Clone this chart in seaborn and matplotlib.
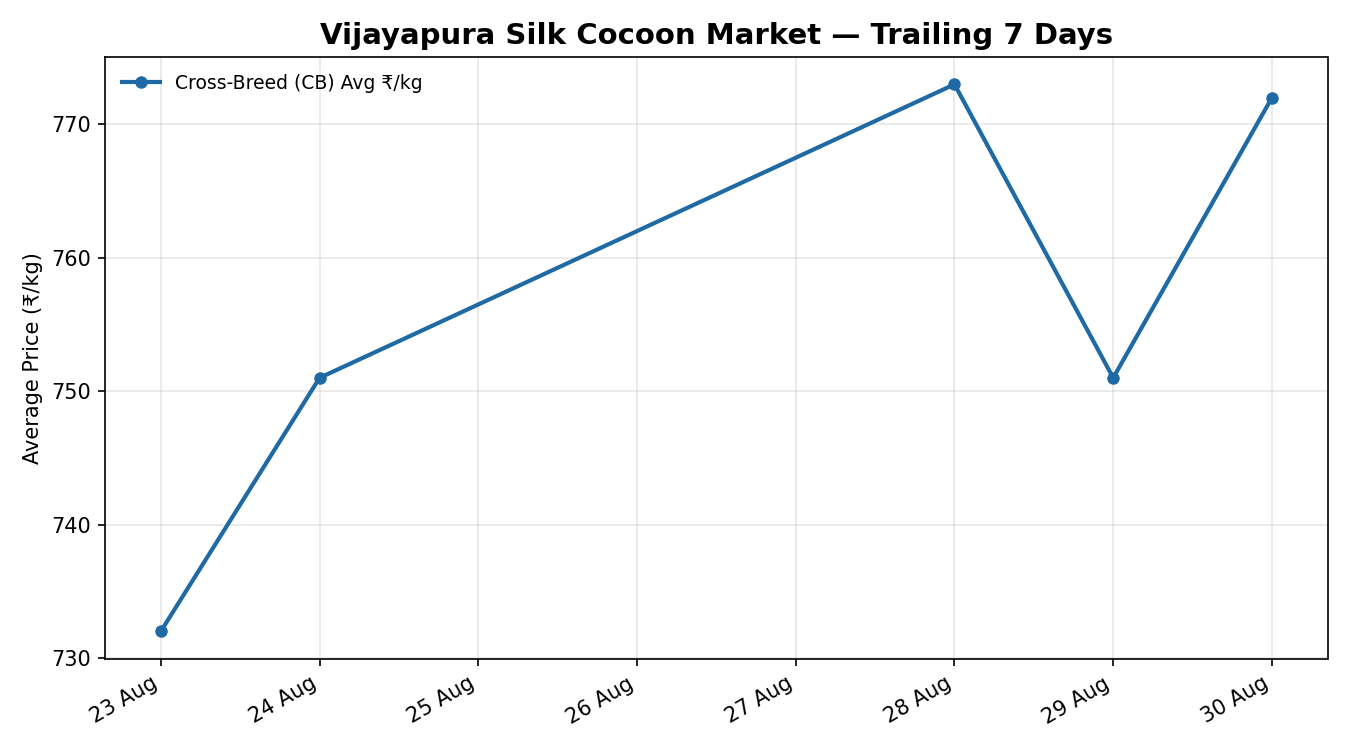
import matplotlib
matplotlib.use("Agg")
import matplotlib.pyplot as plt
import matplotlib.dates as mdates
import pandas as pd
import seaborn as sns

dates = ["2024-08-23", "2024-08-24", "2024-08-28", "2024-08-29", "2024-08-30"]
cb_price = [732, 751, 773, 751, 772]
series_label = "Cross-Breed (CB) Avg ₹/kg"

df = pd.DataFrame({"date": pd.to_datetime(dates), "price": cb_price})

plt.rcParams["font.family"] = ["DejaVu Sans"]

fig, ax = plt.subplots(figsize=(9, 5), dpi=150)
sns.lineplot(
    data=df,
    x="date",
    y="price",
    ax=ax,
    color="#1f6aa5",
    linewidth=2,
    marker="o",
    markersize=6,
    markeredgewidth=0,
    label=series_label,
)
ax.set_title("Vijayapura Silk Cocoon Market — Trailing 7 Days",
             fontsize=14, fontweight="bold")
ax.set_xlabel("")
ax.set_ylabel("Average Price (₹/kg)")
ax.grid(True, alpha=0.3)
ax.xaxis.set_major_locator(mdates.DayLocator())
ax.xaxis.set_major_formatter(mdates.DateFormatter("%d %b"))
ax.legend(loc="upper left", frameon=False, fontsize=9)
fig.autofmt_xdate()
fig.tight_layout()
fig.savefig("out.png", dpi=150)
plt.close(fig)
